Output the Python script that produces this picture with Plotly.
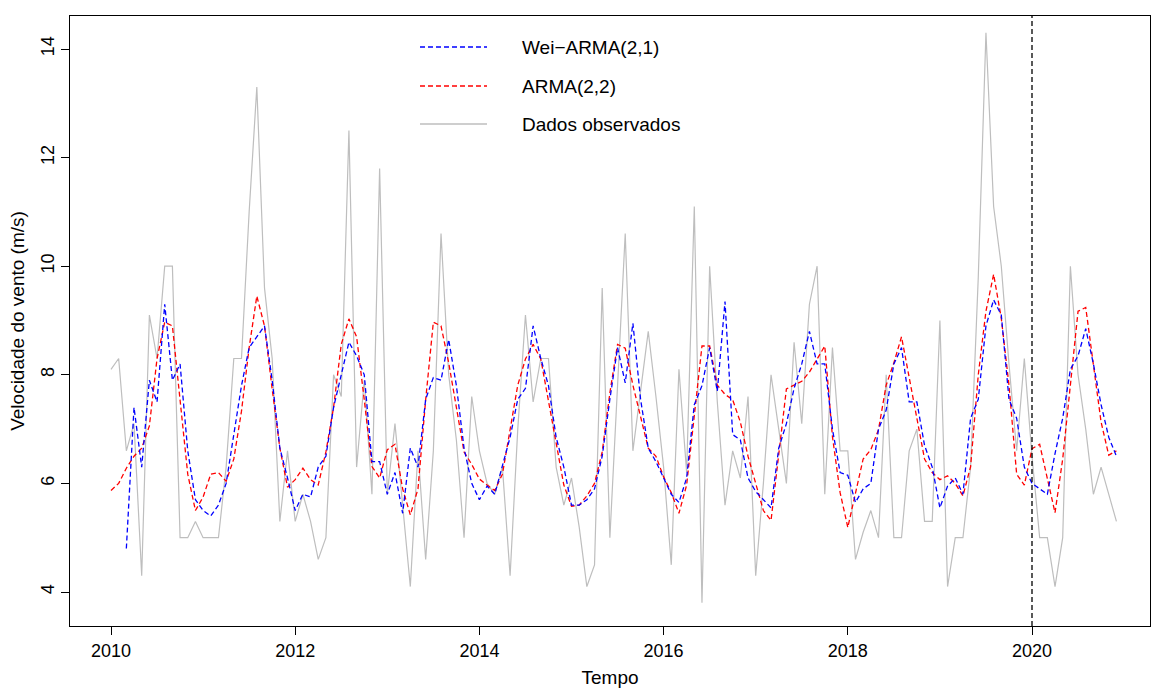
import plotly.graph_objects as go

# ---- data (monthly, Jan 2010 .. Dec 2020) ----
start_year = 2010
observed = [
    8.1, 8.3, 6.6, 7.1, 4.3, 9.1, 8.3, 10.0, 10.0, 5.0, 5.0, 5.3,
    5.0, 5.0, 5.0, 6.3, 8.3, 8.3, 11.0, 13.3, 9.6, 8.3, 5.3, 6.6,
    5.3, 5.8, 5.3, 4.6, 5.0, 8.0, 7.6, 12.5, 6.3, 7.9, 5.8, 11.8,
    5.8, 7.1, 5.6, 4.1, 6.6, 4.6, 6.6, 10.6, 8.0, 6.8, 5.0, 7.6,
    6.6, 6.0, 5.8, 6.3, 4.3, 7.0, 9.1, 7.5, 8.3, 8.3, 6.3, 5.6,
    6.1, 5.2, 4.1, 4.5, 9.6, 5.0, 7.8, 10.6, 6.6, 7.7, 8.8, 7.6,
    6.3, 4.5, 8.1, 6.2, 11.1, 3.8, 10.0, 7.5, 5.6, 6.6, 6.1, 7.6,
    4.3, 6.0, 8.0, 7.0, 6.0, 8.6, 7.1, 9.3, 10.0, 5.8, 8.5, 6.6,
    6.6, 4.6, 5.1, 5.5, 5.0, 8.0, 5.0, 5.0, 6.6, 7.0, 5.3, 5.3,
    9.0, 4.1, 5.0, 5.0, 6.3, 9.8, 14.3, 11.1, 10.0, 8.2, 6.6, 8.3,
    6.5, 5.0, 5.0, 4.1, 5.0, 10.0, 8.0, 7.0, 5.8, 6.3, 5.8, 5.3,
]

# Wei-ARMA(2,1) fitted values start at the 3rd month (Mar 2010)
wei_start_index = 2
wei_arma = [
    4.8, 7.4, 6.3, 7.9, 7.5, 9.3, 7.9, 8.2, 6.6, 5.7,
    5.5, 5.4, 5.6, 6.0, 6.9, 7.8, 8.5, 8.7, 8.9, 7.9, 6.65, 6.1,
    5.5, 5.8, 5.75, 6.3, 6.5, 7.4, 8.0, 8.6, 8.35, 8.0, 6.4, 6.4,
    5.8, 6.2, 5.45, 6.65, 6.3, 7.55, 7.95, 7.9, 8.65, 7.8, 6.65, 6.0,
    5.7, 5.95, 5.8, 6.3, 6.85, 7.55, 7.75, 8.9, 8.3, 7.8, 6.85, 6.3,
    5.6, 5.6, 5.7, 5.9, 6.5, 7.55, 8.5, 7.85, 8.95, 7.55, 6.65, 6.4,
    6.1, 5.8, 5.65, 6.1, 7.45, 7.8, 8.5, 7.7, 9.35, 6.9, 6.8, 6.1,
    5.85, 5.7, 5.55, 6.65, 7.1, 7.75, 8.2, 8.8, 8.2, 8.2, 7.0, 6.2,
    6.15, 5.65, 5.9, 6.0, 7.0, 7.35, 8.2, 8.5, 7.5, 7.5, 6.7, 6.3,
    5.55, 5.95, 6.1, 5.8, 7.2, 7.55, 8.9, 9.38, 9.1, 7.55, 7.2, 6.3,
    6.0, 5.9, 5.8, 6.55, 7.2, 8.1, 8.35, 8.85, 8.2, 7.45, 6.85, 6.5,
]

arma22 = [
    5.87, 6.0, 6.28, 6.5, 6.65, 7.06, 8.3, 8.97, 8.9, 7.47, 6.17, 5.5,
    5.75, 6.17, 6.2, 6.04, 6.45, 7.33, 8.5, 9.45, 8.9, 7.74, 6.65, 5.93,
    6.07, 6.28, 6.07, 5.97, 6.58, 7.4, 8.56, 9.03, 8.7, 7.54, 6.31, 6.1,
    6.62, 6.72, 5.9, 5.42, 5.9, 7.54, 8.97, 8.9, 8.22, 7.4, 6.58, 6.35,
    6.08, 5.97, 5.87, 6.17, 6.99, 7.81, 8.29, 8.56, 8.29, 7.54, 6.72, 5.97,
    5.58, 5.6, 5.77, 6.0, 6.58, 7.67, 8.56, 8.49, 7.81, 7.2, 6.65, 6.5,
    6.12, 5.83, 5.45, 5.97, 7.26, 8.53, 8.53, 7.81, 7.64, 7.54, 7.13, 6.5,
    6.0, 5.5, 5.32, 6.58, 7.74, 7.81, 7.88, 8.05, 8.3, 8.53, 6.86, 5.83,
    5.19, 5.83, 6.45, 6.62, 6.99, 7.81, 8.22, 8.7, 7.95, 7.2, 6.45, 6.2,
    6.07, 6.14, 6.0, 5.77, 6.31, 8.0, 9.17, 9.85, 9.04, 7.81, 6.17, 5.97,
    6.64, 6.72, 6.07, 5.46, 6.45, 7.81, 9.17, 9.24, 8.22, 7.13, 6.52, 6.6,
]

forecast_start = 2020
x_ticks = [2010, 2012, 2014, 2016, 2018, 2020]
y_ticks = [4, 6, 8, 10, 12, 14]
legend_labels = ["Wei\u2212ARMA(2,1)", "ARMA(2,2)", "Dados observados"]

t_obs = [start_year + i / 12 for i in range(len(observed))]
t_wei = [start_year + (wei_start_index + i) / 12 for i in range(len(wei_arma))]
t_arma = [start_year + i / 12 for i in range(len(arma22))]

GRAY = "rgb(190,190,190)"
BLUE = "rgb(0,0,255)"
RED = "rgb(255,0,0)"
DASH = "5px,3px"

fig = go.Figure()
fig.add_trace(go.Scatter(x=t_obs, y=observed, mode="lines", name=legend_labels[2],
                         line=dict(color=GRAY, width=1.2), showlegend=False))
fig.add_trace(go.Scatter(x=t_arma, y=arma22, mode="lines", name=legend_labels[1],
                         line=dict(color=RED, width=1.3, dash=DASH), showlegend=False))
fig.add_trace(go.Scatter(x=t_wei, y=wei_arma, mode="lines", name=legend_labels[0],
                         line=dict(color=BLUE, width=1.3, dash=DASH), showlegend=False))

# vertical dashed line at forecast start
fig.add_shape(type="line", xref="x", yref="paper", x0=forecast_start, x1=forecast_start,
              y0=0, y1=1, line=dict(color="black", width=1.3, dash=DASH))

# manual legend (no box)
L, T = 70, 16
W, H = 1080, 610
def px_x(p): return (p - L) / W
def px_y(p): return (T + H - p) / H
leg_rows = [47, 86, 124]
leg_styles = [(BLUE, DASH), (RED, DASH), (GRAY, "solid")]
for row, (col, dsh), lab in zip(leg_rows, leg_styles, legend_labels):
    fig.add_shape(type="line", xref="paper", yref="paper",
                  x0=px_x(420), x1=px_x(487), y0=px_y(row), y1=px_y(row),
                  line=dict(color=col, width=1.3, dash=dsh))
    fig.add_annotation(xref="paper", yref="paper", x=px_x(520), y=px_y(row),
                       text=lab, showarrow=False, xanchor="left", yanchor="middle",
                       font=dict(size=19, color="black"))

font_family = "Liberation Sans, Arial, sans-serif"
fig.update_layout(
    width=1153, height=689,
    margin=dict(l=L, r=1153 - L - W, t=T, b=689 - T - H),
    paper_bgcolor="white", plot_bgcolor="white",
    font=dict(family=font_family, size=18, color="black"),
    xaxis=dict(
        range=[2010 + (70 - 111) / 92.1, 2010 + (1150 - 111) / 92.1],
        tickvals=x_ticks, ticktext=[str(v) for v in x_ticks],
        showgrid=False, zeroline=False,
        showline=True, linecolor="black", linewidth=1.3, mirror=True,
        ticks="outside", ticklen=8, tickwidth=1.2, tickcolor="black",
        title=dict(text="Tempo", font=dict(size=19), standoff=10),
    ),
    yaxis=dict(
        range=[4 - (626 - 592) / 54.3, 4 + (592 - 16) / 54.3],
        tickvals=y_ticks, ticktext=[str(v) for v in y_ticks],
        tickangle=-90,
        showgrid=False, zeroline=False,
        showline=True, linecolor="black", linewidth=1.3, mirror=True,
        ticks="outside", ticklen=8, tickwidth=1.2, tickcolor="black",
        title=dict(text="Velocidade do vento (m/s)", font=dict(size=19), standoff=8),
    ),
)

fig.write_html("out.html")
